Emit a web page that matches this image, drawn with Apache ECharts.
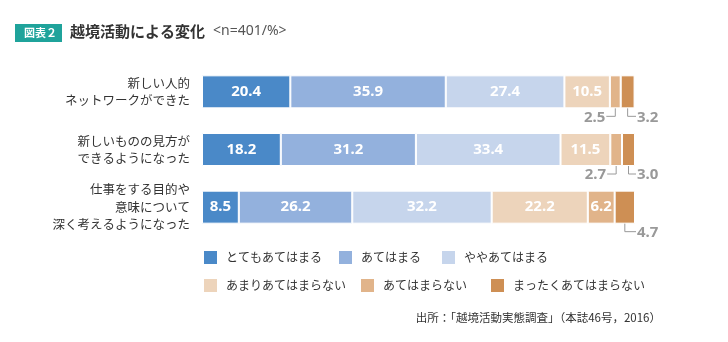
<!DOCTYPE html>
<html><head><meta charset="utf-8">
<script src="https://cdn.jsdelivr.net/npm/echarts@6/dist/echarts.min.js"></script>
<style>html,body{margin:0;padding:0;background:#fff}#c{width:728px;height:342px}</style>
</head><body><div id="c"></div>
<script>
const categories = ['新しい人的\nネットワークができた', '新しいものの見方が\nできるようになった', '仕事をする目的や\n意味について\n深く考えるようになった'];
const seriesNames = ['とてもあてはまる', 'あてはまる', 'ややあてはまる', 'あまりあてはまらない', 'あてはまらない', 'まったくあてはまらない'];
const veryTrue = [20.4, 18.2, 8.5];
const isTrue = [35.9, 31.2, 26.2];
const somewhatTrue = [27.4, 33.4, 32.2];
const notReally = [10.5, 11.5, 22.2];
const notTrue = [2.5, 2.7, 6.2];
const notAtAll = [3.2, 3.0, 4.7];
const seriesValues = [veryTrue, isTrue, somewhatTrue, notReally, notTrue, notAtAll];
const colors = ['#4a89c8', '#93b1dd', '#c6d5ec', '#edd4bb', '#e1b48a', '#ce8f54'];

const FONT_JP = '"Noto Sans CJK JP", "Noto Sans", sans-serif';
const FONT_NUM = '"Noto Sans", "Open Sans", sans-serif';
const BAR_W = 33;

// outside labels for small segments (built from data)
const outside = [];
categories.forEach((c, r) => {
  let start = 0;
  seriesValues.forEach((arr, s) => {
    const v = arr[r];
    if (v < 5) outside.push([start, r, v, s === seriesValues.length - 1 ? 1 : -1]);
    start += v;
  });
});

const barSeries = seriesNames.map((name, i) => ({
  name, type: 'bar', stack: 'total', barWidth: BAR_W,
  data: seriesValues[i],
  itemStyle: { color: colors[i], borderColor: '#fff', borderWidth: 1 },
  label: {
    show: true, position: 'inside', color: '#fff',
    fontFamily: FONT_NUM, fontWeight: 'bold', fontSize: 15,
    formatter: p => p.value >= 5 ? p.value.toFixed(1) : ''
  },
  emphasis: { disabled: true }
}));

const legendPos = [[202, 249], [337, 249], [440, 249], [202, 277], [359, 277], [489, 277]];
const legends = seriesNames.map((n, i) => ({
  data: [n], left: legendPos[i][0], top: legendPos[i][1], padding: 0,
  itemWidth: 15, itemHeight: 15, icon: 'rect', selectedMode: false,
  textStyle: { fontFamily: FONT_JP, fontSize: 12, color: '#333', padding: [0, 0, 0, 3] }
}));

const chart = echarts.init(document.getElementById('c'), null, { renderer: 'canvas' });
chart.setOption({
  animation: false,
  color: colors,
  grid: { left: 202, right: 93, top: 63, bottom: 106, containLabel: false },
  xAxis: { type: 'value', min: 0, max: 100, show: false },
  yAxis: {
    type: 'category', data: categories, inverse: true,
    axisLine: { show: false }, axisTick: { show: false }, splitLine: { show: false },
    axisLabel: { fontFamily: FONT_JP, fontSize: 12.5, color: '#333', lineHeight: 17.5, align: 'right', margin: 12 }
  },
  legend: legends,
  series: barSeries.concat([{
    type: 'custom', silent: true, z: 5,
    coordinateSystem: 'cartesian2d',
    encode: { x: 0, y: 1 },
    data: outside,
    renderItem: (params, api) => {
      const start = api.value(0), row = api.value(1), v = api.value(2), side = api.value(3);
      const mid = api.coord([start + v / 2, row]);
      const endX = api.coord([100, row])[0];
      const y0 = mid[1] + BAR_W / 2, y1 = y0 + 8;
      const x2 = side > 0 ? endX + 1 : mid[0] - 9;
      return {
        type: 'group', children: [
          { type: 'polyline', shape: { points: [[mid[0], y0], [mid[0], y1], [x2, y1]] },
            style: { stroke: '#9a9a9a', lineWidth: 1, fill: null } },
          { type: 'text', x: side > 0 ? x2 + 1 : x2 - 1, y: y1 + 1,
            style: { text: v.toFixed(1), align: side > 0 ? 'left' : 'right', verticalAlign: 'middle',
              fill: '#999', fontFamily: FONT_NUM, fontWeight: 'bold', fontSize: 15 } }
        ]
      };
    }
  }]),
  graphic: [
    { type: 'rect', left: 15, top: 24, shape: { width: 47, height: 18 }, style: { fill: '#1fa39b' } },
    { type: 'text', left: 24, top: 27, style: { text: '図表２', fill: '#fff', fontFamily: FONT_JP, fontWeight: 'bold', fontSize: 11 } },
    { type: 'text', left: 70, top: 24, style: { text: '越境活動による変化', fill: '#333', fontFamily: FONT_JP, fontWeight: 'bold', fontSize: 15 } },
    { type: 'text', left: 213, top: 24, style: { text: '<n=401/%>', fill: '#555', fontFamily: FONT_NUM, fontSize: 14 } },
    { type: 'text', right: 67, top: 312, style: { text: '出所：「越境活動実態調査」（本誌46号，2016）', fill: '#333', fontFamily: FONT_JP, fontSize: 11.5 } }
  ]
});
</script></body></html>
